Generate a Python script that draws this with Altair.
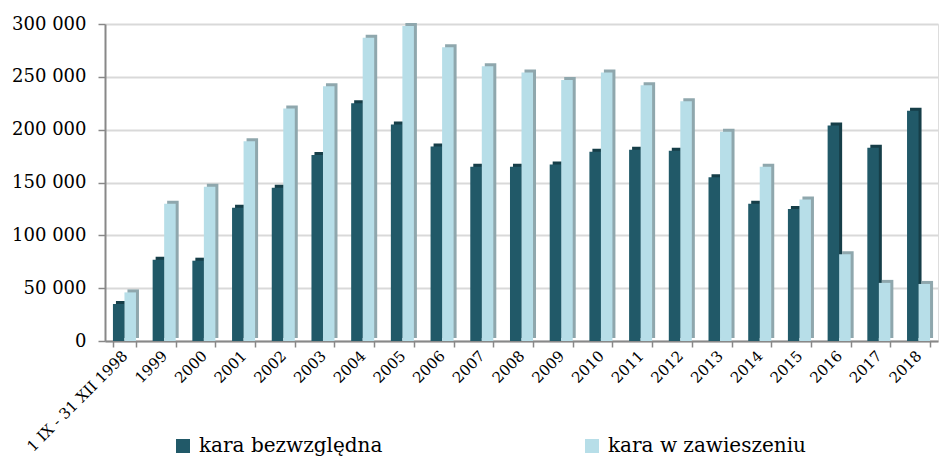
import altair as alt
import pandas as pd

categories = ["1 IX - 31 XII 1998", "1999", "2000", "2001", "2002", "2003", "2004",
              "2005", "2006", "2007", "2008", "2009", "2010", "2011", "2012", "2013",
              "2014", "2015", "2016", "2017", "2018"]
series = ["kara bezwzględna", "kara w zawieszeniu"]
bezwzgledna = [35000, 77000, 76000, 126000, 145000, 176000, 225000, 205000, 184000, 165000,
               165000, 167000, 179000, 181000, 180000, 155000, 130000, 125000, 204000, 183000, 218000]
zawieszenie = [46000, 130000, 146000, 189000, 220000, 241000, 287000, 298000, 278000, 260000,
               254000, 247000, 254000, 242000, 227000, 198000, 165000, 134000, 82000, 55000, 54000]
y_ticks = [0, 50000, 100000, 150000, 200000, 250000, 300000]

front_colors = ["#215968", "#B7DEE8"]
side_colors = ["#163E48", "#8FA7AD"]

rows = []
for c, a, b in zip(categories, bezwzgledna, zawieszenie):
    rows.append({"category": c, "series": series[0], "value": a})
    rows.append({"category": c, "series": series[1], "value": b})
df = pd.DataFrame(rows)

FONT = "DejaVu Serif"
PLOT_W = 833
PAD_IN = 0.42
PAD_OUT = 0.2
STEP = PLOT_W / (len(categories) - PAD_IN + 2 * PAD_OUT)
BANDW = STEP * (1 - PAD_IN)
DEPTH = 3

x_enc = alt.X("category:N", sort=categories,
              scale=alt.Scale(paddingInner=PAD_IN, paddingOuter=PAD_OUT),
              axis=alt.Axis(title=None, labelAngle=-45, labelAlign="right", labelBaseline="middle",
                            tickBand="extent", labelFont=FONT, labelFontSize=15,
                            labelColor="#000000", labelPadding=6, domainColor="#888888",
                            domainWidth=2, tickColor="#888888", tickSize=6, tickWidth=1.5,
                            grid=False))
y_enc = alt.Y("value:Q", scale=alt.Scale(domain=[0, 300000], nice=False),
              axis=alt.Axis(title=None, values=y_ticks,
                            labelExpr="replace(format(datum.value, ','), ',', ' ')",
                            labelFont=FONT, labelFontSize=18, labelColor="#000000",
                            labelPadding=12, domainColor="#888888", domainWidth=2,
                            tickColor="#888888", tickSize=7, tickWidth=1.5,
                            grid=True, gridColor="#D9D9D9", gridWidth=2))

side = alt.Chart(df).mark_bar(yOffset=-DEPTH, y2Offset=-DEPTH).encode(
    x=x_enc,
    xOffset=alt.XOffset("series:N", sort=series,
                        scale=alt.Scale(range=[DEPTH, BANDW + DEPTH], paddingInner=0, paddingOuter=0)),
    y=y_enc,
    color=alt.Color("series:N", scale=alt.Scale(domain=series, range=side_colors), legend=None),
)

front = alt.Chart(df).mark_bar().encode(
    x=x_enc,
    xOffset=alt.XOffset("series:N", sort=series,
                        scale=alt.Scale(range=[0, BANDW], paddingInner=0, paddingOuter=0)),
    y=y_enc,
    color=alt.Color("series:N", scale=alt.Scale(domain=series, range=front_colors),
                    legend=alt.Legend(title=None, orient="none", legendX=68, legendY=412,
                                      direction="horizontal", columns=2, columnPadding=199,
                                      symbolType="square", symbolSize=196, symbolStrokeWidth=0,
                                      labelFont=FONT, labelFontSize=20, labelColor="#000000",
                                      labelOffset=6, labelLimit=0, padding=0)),
)

chart = alt.layer(side, front).resolve_scale(color="independent", xOffset="independent").properties(
    width=PLOT_W, height=317,
    autosize=alt.AutoSizeParams(type="none"),
    padding={"left": 97, "top": 16, "right": 2, "bottom": 122},
).configure_view(stroke=None).configure(background="#ffffff")

chart.save("out.html", embed_options={"renderer": "svg", "actions": False})
